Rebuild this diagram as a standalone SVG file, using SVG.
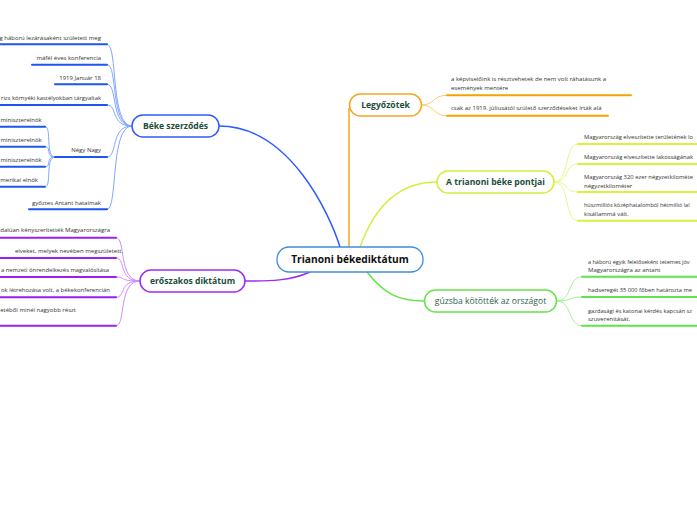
<svg xmlns="http://www.w3.org/2000/svg" width="697" height="520" viewBox="0 0 697 520">
<style>
.leaf{font-family:"Open Sans","Noto Sans",sans-serif;font-size:6px;fill:#333}
.node{font-family:"Open Sans","Noto Sans",sans-serif;font-size:8.6px;font-weight:bold;fill:#1d4d3c;text-anchor:middle}
.ul{fill:none;stroke-width:2;stroke-linecap:round}
.cn{fill:none;stroke-width:1}
.box{fill:#fff;stroke-width:1.5}
.b{stroke:#1f55f0}.bc{stroke:#82a6ff}
.p{stroke:#9a1ff0}.pc{stroke:#cf8bff}
.o{stroke:#f5a300}.oc{stroke:#ffca72}
.y{stroke:#d8f43a}.yc{stroke:#e7f88a}
.g{stroke:#5fe34a}.gc{stroke:#a5f09a}
</style>
<rect width="697" height="520" fill="#fff"/>
<g id="connectors">
  <path class="cn" style="stroke-width:1.5" stroke="#2f5cff" d="M340,247 C330,215 290,126 219,126"/>
  <path class="cn" style="stroke-width:1.5" stroke="#f5a623" d="M349,247 C349,200 349,140 349,108"/>
  <path class="cn" style="stroke-width:1.5" stroke="#d4ef3b" d="M360,247 C375,205 400,182 437,182"/>
  <path class="cn" style="stroke-width:1.5" stroke="#66e44a" d="M367,272 C385,295 400,301 424,301"/>
  <path class="cn" style="stroke-width:1.5" stroke="#9d2bf0" d="M310,272 C290,281 270,281 245,281"/>
  <path class="cn bc" d="M132,126 C110,126 118,44.3 107,44.3"/>
  <path class="cn bc" d="M132,126 C110,126 118,64.7 107,64.7"/>
  <path class="cn bc" d="M132,126 C110,126 118,84.3 107,84.3"/>
  <path class="cn bc" d="M132,126 C110,126 118,105 107,105"/>
  <path class="cn bc" d="M132,126 C110,126 118,157 107,157"/>
  <path class="cn bc" d="M132,126 C110,126 118,209.3 107,209.3"/>
  <path class="cn bc" d="M55,157 C45,157 52,126.7 45,126.7"/>
  <path class="cn bc" d="M55,157 C45,157 52,146.7 45,146.7"/>
  <path class="cn bc" d="M55,157 C45,157 52,166.7 45,166.7"/>
  <path class="cn bc" d="M55,157 C45,157 52,186.7 45,186.7"/>
  <path class="cn pc" d="M140,281 C118,281 126,237.7 116,237.7"/>
  <path class="cn pc" d="M140,281 C118,281 126,258 116,258"/>
  <path class="cn pc" d="M140,281 C118,281 126,277 116,277"/>
  <path class="cn pc" d="M140,281 C118,281 126,297.3 116,297.3"/>
  <path class="cn pc" d="M140,281 C118,281 126,325.7 116,325.7"/>
  <path class="cn oc" d="M421,105 C436,105 432,95.3 447,95.3"/>
  <path class="cn oc" d="M421,105 C436,105 432,115.7 447,115.7"/>
  <path class="cn yc" d="M554,182 C570,182 564,144 578,144"/>
  <path class="cn yc" d="M554,182 C570,182 564,164 578,164"/>
  <path class="cn yc" d="M554,182 C570,182 564,192 578,192"/>
  <path class="cn yc" d="M554,182 C570,182 564,220.7 578,220.7"/>
  <path class="cn gc" d="M557,301 C572,301 568,276.7 582,276.7"/>
  <path class="cn gc" d="M557,301 C572,301 568,297 582,297"/>
  <path class="cn gc" d="M557,301 C572,301 568,325.7 582,325.7"/>
</g>
<g id="center">
  <rect x="277" y="247" width="146" height="25" rx="12" fill="#fff" stroke="#3c8ee0" stroke-width="1.3"/>
  <text x="350" y="263.3" style="font-family:'Open Sans','Noto Sans',sans-serif;font-size:10.2px;font-weight:bold;fill:#111;text-anchor:middle">Trianoni békediktátum</text>
</g>
<g id="beke">
  <rect class="box" x="132" y="115" width="87" height="22" rx="11" stroke="#2f5cff"/>
  <text class="node" x="175.5" y="129.3">Béke szerződés</text>
</g>
<g id="beke-items">
  <line class="ul b" x1="0" y1="44.3" x2="107" y2="44.3"/><text class="leaf" x="101" y="40" text-anchor="end">g háború lezárásaként született meg</text>
  <line class="ul b" x1="32" y1="64.7" x2="107" y2="64.7"/><text class="leaf" x="101" y="60" text-anchor="end">máfél éves konferencia</text>
  <line class="ul b" x1="55" y1="84.3" x2="107" y2="84.3"/><text class="leaf" x="101" y="79.5" text-anchor="end">1919 Január 18</text>
  <line class="ul b" x1="0" y1="105" x2="107" y2="105"/><text class="leaf" x="1" y="99.5" textLength="100" lengthAdjust="spacingAndGlyphs">rizs környéki kastélyokban tárgyaltak</text>
  <line class="ul b" x1="55" y1="157" x2="107" y2="157"/><text class="leaf" x="101" y="152" text-anchor="end">Négy Nagy</text>
  <line class="ul b" x1="0" y1="126.7" x2="45" y2="126.7"/><text class="leaf" x="0.5" y="121.5">miniszterelnök</text>
  <line class="ul b" x1="0" y1="146.7" x2="45" y2="146.7"/><text class="leaf" x="0.5" y="142">miniszterelnök</text>
  <line class="ul b" x1="0" y1="166.7" x2="45" y2="166.7"/><text class="leaf" x="0.5" y="162">miniszterelnök</text>
  <line class="ul b" x1="0" y1="186.7" x2="45" y2="186.7"/><text class="leaf" x="38" y="182" text-anchor="end">merikai elnök</text>
  <line class="ul b" x1="29" y1="209.3" x2="107" y2="209.3"/><text class="leaf" x="101" y="204.5" text-anchor="end">győztes Antant hatalmak</text>
</g>
<g id="eroszakos">
  <rect class="box" x="140" y="270" width="105" height="22" rx="11" stroke="#9d2bf0"/>
  <text class="node" x="192.5" y="284.3">erőszakos diktátum</text>
</g>
<g id="eroszakos-items">
  <line class="ul p" x1="0" y1="237.7" x2="116" y2="237.7"/><text class="leaf" x="110" y="232" text-anchor="end">dalúan kényszerítették Magyarországra</text>
  <line class="ul p" x1="0" y1="258" x2="116" y2="258"/><text class="leaf" x="123" y="253" text-anchor="end">elveket, melyek nevében megszületett.</text>
  <line class="ul p" x1="0" y1="277" x2="116" y2="277"/><text class="leaf" x="1" y="272" textLength="108" lengthAdjust="spacingAndGlyphs">a nemzeti önrendelkezés magvalósítása</text>
  <line class="ul p" x1="0" y1="297.3" x2="116" y2="297.3"/><text class="leaf" x="1" y="291.5" textLength="109" lengthAdjust="spacingAndGlyphs">ok létrehozása volt, a békekonferencián</text>
  <line class="ul p" x1="0" y1="325.7" x2="116" y2="325.7"/><text class="leaf" x="76" y="312" text-anchor="end">etéből minél nagyobb részt</text>
</g>
<g id="legyozotek">
  <rect class="box" x="349.5" y="94" width="72" height="22" rx="11" stroke="#f5a623"/>
  <text class="node" x="385.5" y="108.3">Legyőzötek</text>
</g>
<g id="legyozotek-items">
  <line class="ul o" x1="447" y1="95.3" x2="631" y2="95.3"/>
  <text class="leaf" x="451" y="81">a képviselőink is résztvehetek de nem volt ráhatásunk a</text>
  <text class="leaf" x="451" y="89.5">események mentére</text>
  <line class="ul o" x1="447" y1="115.7" x2="608" y2="115.7"/>
  <text class="leaf" x="451" y="110">csak az 1919. júliusától születő szerződéseket írták alá</text>
</g>
<g id="pontjai">
  <rect class="box" x="437" y="171" width="117" height="22" rx="11" stroke="#d4ef3b"/>
  <text class="node" x="495.5" y="185.3">A trianoni béke pontjai</text>
</g>
<g id="pontjai-items">
  <line class="ul y" x1="578" y1="144" x2="700" y2="144"/>
  <text class="leaf" x="584" y="139" textLength="109" lengthAdjust="spacingAndGlyphs">Magyarország elveszítette területének lo</text>
  <line class="ul y" x1="578" y1="164" x2="700" y2="164"/>
  <text class="leaf" x="584" y="159" textLength="109" lengthAdjust="spacingAndGlyphs">Magyarország elveszítette lakosságának</text>
  <line class="ul y" x1="578" y1="192" x2="700" y2="192"/>
  <text class="leaf" x="584" y="179" textLength="109" lengthAdjust="spacingAndGlyphs">Magyarország 320 ezer négyzetkilométe</text>
  <text class="leaf" x="584" y="187.5">négyzetkilométer</text>
  <line class="ul y" x1="578" y1="220.7" x2="700" y2="220.7"/>
  <text class="leaf" x="584" y="207" style="font-size:5.5px">húszmilliós középhatalomból hétmillió lal</text>
  <text class="leaf" x="584" y="216">kisállammá vált.</text>
</g>
<g id="guzsba">
  <rect class="box" x="424.5" y="290" width="132" height="22" rx="11" stroke="#66e44a"/>
  <text class="node" x="490.5" y="304" style="font-weight:normal;fill:#2f5f4f">gúzsba kötötték az országot</text>
</g>
<g id="guzsba-items">
  <line class="ul g" x1="582" y1="276.7" x2="700" y2="276.7"/>
  <text class="leaf" x="588" y="264" style="font-size:5.5px">a háború egyik felelőseként tetemes jóv</text>
  <text class="leaf" x="588" y="271.5">Magyarországra az antant</text>
  <line class="ul g" x1="582" y1="297" x2="700" y2="297"/>
  <text class="leaf" x="588" y="292" textLength="104" lengthAdjust="spacingAndGlyphs">hadseregét 35 000 főben határozta me</text>
  <line class="ul g" x1="582" y1="325.7" x2="700" y2="325.7"/>
  <text class="leaf" x="588" y="313" textLength="104" lengthAdjust="spacingAndGlyphs">gazdasági és katonai kérdés kapcsán sz</text>
  <text class="leaf" x="588" y="320.5">szuverenitását.</text>
</g>
</svg>
